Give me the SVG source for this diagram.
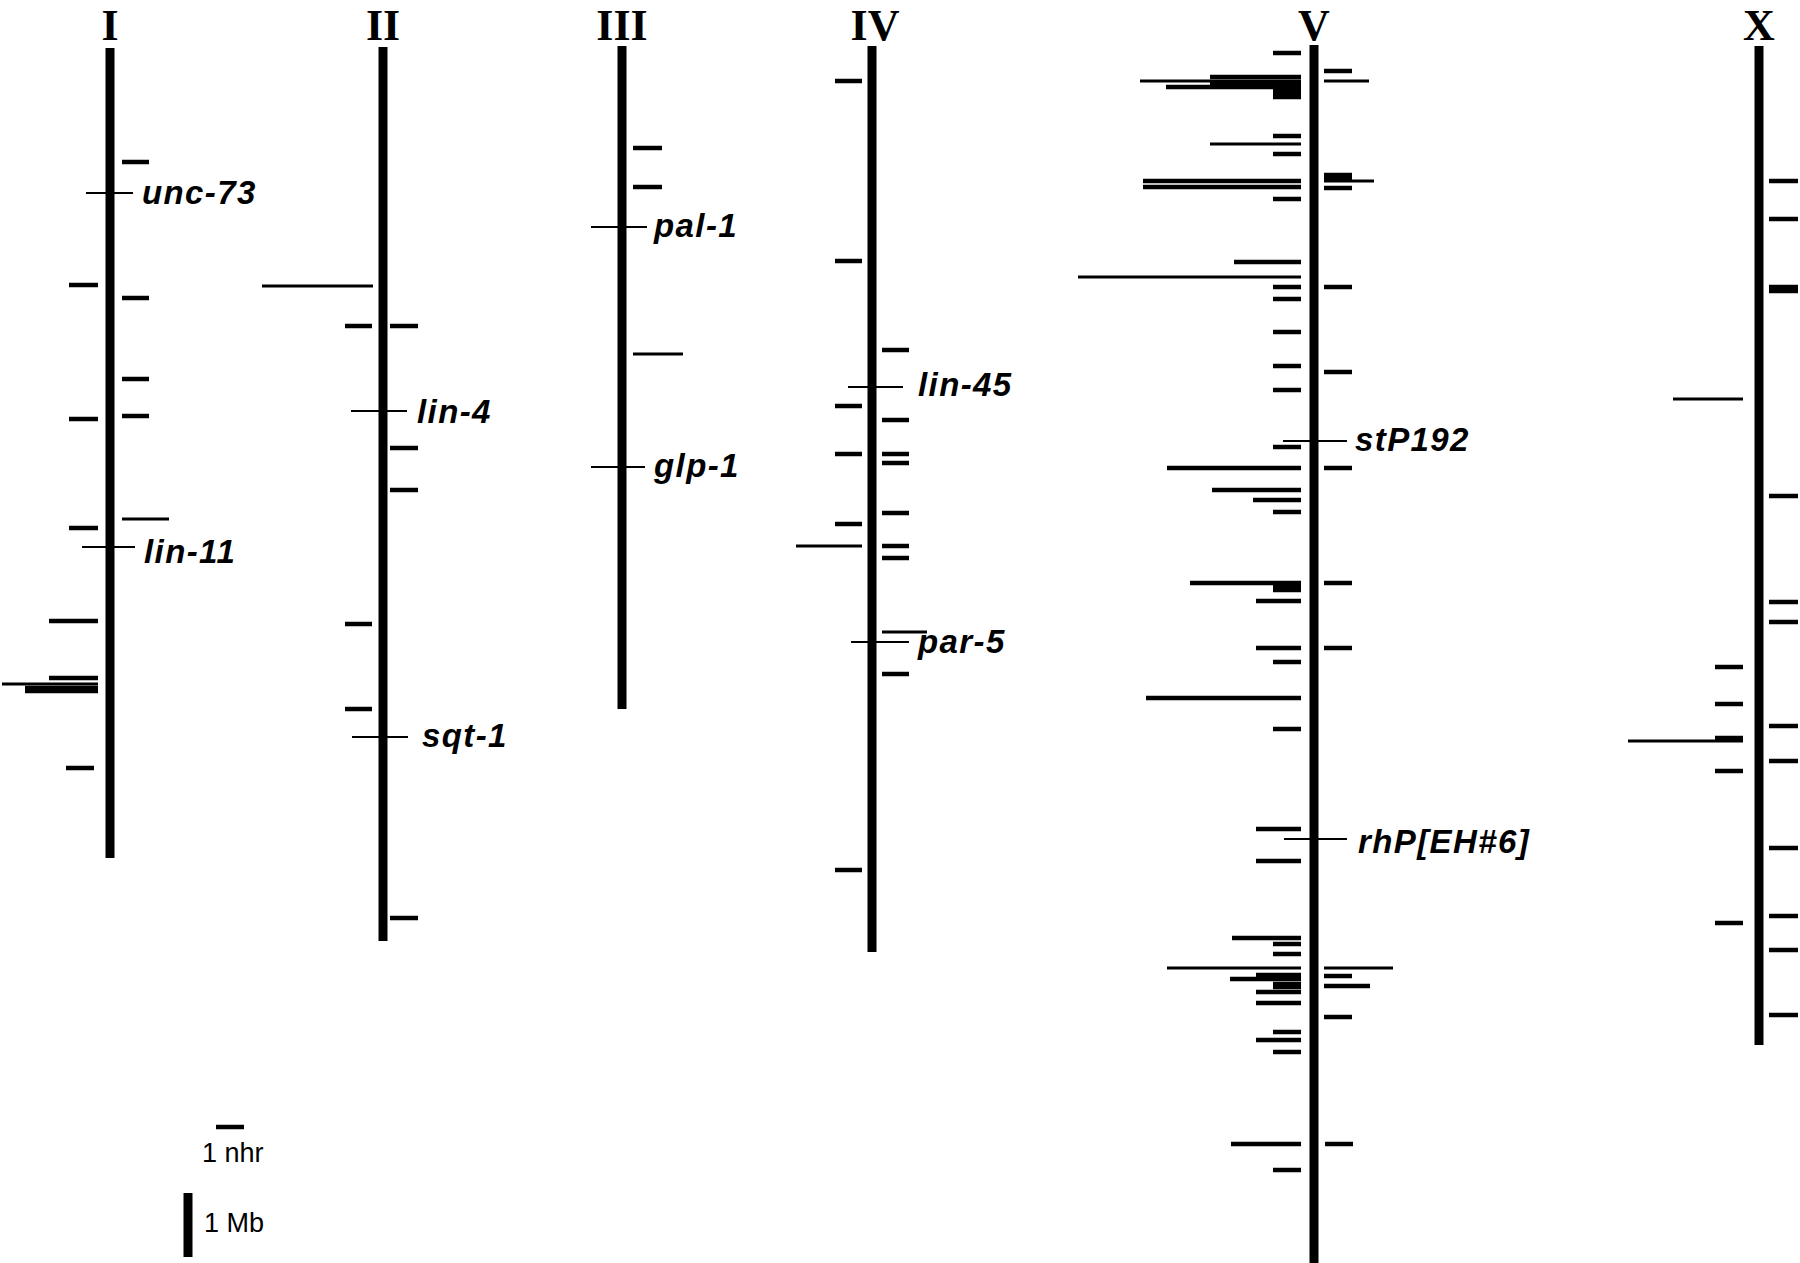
<svg xmlns="http://www.w3.org/2000/svg" width="1800" height="1263" viewBox="0 0 1800 1263">
<style>
line{stroke:#000;stroke-linecap:butt}
.c{stroke-width:9}
.t{stroke-width:4.5}
.w{stroke-width:3.2}
.m{stroke-width:2}
.h{font-family:"Liberation Serif","Times New Roman",serif;font-weight:bold;font-size:44px;text-anchor:middle;fill:#000}
.g{font-family:"Liberation Sans",Arial,sans-serif;font-weight:bold;font-style:italic;font-size:33px;letter-spacing:1.4px;fill:#000}
.s{font-family:"Liberation Sans",Arial,sans-serif;font-size:27px;fill:#000}
</style>
<rect width="1800" height="1263" fill="#fff"/>

<g id="chrI">
<text class="h" x="110" y="40">I</text>
<line class="c" x1="110" y1="48" x2="110" y2="858"/>
<line class="t" x1="122" y1="162" x2="149" y2="162"/>
<line class="m" x1="86" y1="193" x2="133" y2="193"/>
<text class="g" x="142" y="204">unc-73</text>
<line class="t" x1="69" y1="285" x2="98" y2="285"/>
<line class="t" x1="122" y1="298" x2="149" y2="298"/>
<line class="t" x1="122" y1="379" x2="149" y2="379"/>
<line class="t" x1="122" y1="416" x2="149" y2="416"/>
<line class="t" x1="69" y1="419" x2="98" y2="419"/>
<line class="w" x1="122" y1="519" x2="169" y2="519"/>
<line class="t" x1="69" y1="528" x2="98" y2="528"/>
<line class="m" x1="82" y1="547" x2="135" y2="547"/>
<text class="g" x="144" y="563">lin-11</text>
<line class="t" x1="49" y1="621" x2="98" y2="621"/>
<line class="t" x1="49" y1="678" x2="98" y2="678"/>
<line class="w" x1="2" y1="684" x2="98" y2="684"/>
<line class="t" x1="25" y1="688" x2="98" y2="688"/>
<line class="t" x1="25" y1="691" x2="98" y2="691"/>
<line class="t" x1="66" y1="768" x2="94" y2="768"/>
</g>

<g id="chrII">
<text class="h" x="383" y="40">II</text>
<line class="c" x1="383" y1="47" x2="383" y2="941"/>
<line class="w" x1="262" y1="286" x2="373" y2="286"/>
<line class="t" x1="345" y1="326" x2="372" y2="326"/>
<line class="t" x1="390" y1="326" x2="418" y2="326"/>
<line class="m" x1="351" y1="411" x2="407" y2="411"/>
<text class="g" x="417" y="423">lin-4</text>
<line class="t" x1="390" y1="448" x2="418" y2="448"/>
<line class="t" x1="390" y1="490" x2="418" y2="490"/>
<line class="t" x1="345" y1="624" x2="372" y2="624"/>
<line class="t" x1="345" y1="709" x2="372" y2="709"/>
<line class="m" x1="352" y1="737" x2="408" y2="737"/>
<text class="g" x="422" y="747">sqt-1</text>
<line class="t" x1="390" y1="918" x2="418" y2="918"/>
</g>

<g id="chrIII">
<text class="h" x="622" y="40">III</text>
<line class="c" x1="622" y1="46" x2="622" y2="709"/>
<line class="t" x1="633" y1="148" x2="662" y2="148"/>
<line class="t" x1="633" y1="187" x2="662" y2="187"/>
<line class="m" x1="591" y1="227" x2="647" y2="227"/>
<text class="g" x="654" y="237">pal-1</text>
<line class="w" x1="633" y1="354" x2="683" y2="354"/>
<line class="m" x1="591" y1="467" x2="645" y2="467"/>
<text class="g" x="654" y="477">glp-1</text>
</g>

<g id="chrIV">
<text class="h" x="875" y="40">IV</text>
<line class="c" x1="872" y1="46" x2="872" y2="952"/>
<line class="t" x1="835" y1="81" x2="862" y2="81"/>
<line class="t" x1="835" y1="261" x2="862" y2="261"/>
<line class="t" x1="882" y1="350" x2="909" y2="350"/>
<line class="m" x1="848" y1="387" x2="903" y2="387"/>
<text class="g" x="918" y="396">lin-45</text>
<line class="t" x1="835" y1="406" x2="862" y2="406"/>
<line class="t" x1="882" y1="420" x2="909" y2="420"/>
<line class="t" x1="835" y1="454" x2="862" y2="454"/>
<line class="t" x1="882" y1="454" x2="909" y2="454"/>
<line class="t" x1="882" y1="463" x2="909" y2="463"/>
<line class="t" x1="882" y1="513" x2="909" y2="513"/>
<line class="t" x1="835" y1="524" x2="862" y2="524"/>
<line class="w" x1="796" y1="546" x2="862" y2="546"/>
<line class="t" x1="882" y1="546" x2="909" y2="546"/>
<line class="t" x1="882" y1="558" x2="909" y2="558"/>
<line class="w" x1="882" y1="632" x2="927" y2="632"/>
<line class="m" x1="851" y1="642" x2="909" y2="642"/>
<text class="g" x="918" y="653">par-5</text>
<line class="t" x1="882" y1="674" x2="909" y2="674"/>
<line class="t" x1="835" y1="870" x2="862" y2="870"/>
</g>

<g id="chrV">
<text class="h" x="1314" y="40">V</text>
<line class="c" x1="1314" y1="45" x2="1314" y2="1263"/>
<line class="t" x1="1273" y1="53" x2="1301" y2="53"/>
<line class="t" x1="1324" y1="71" x2="1352" y2="71"/>
<line class="t" x1="1210" y1="77" x2="1301" y2="77"/>
<line class="w" x1="1140" y1="81" x2="1301" y2="81"/>
<line class="t" x1="1210" y1="83" x2="1301" y2="83"/>
<line class="w" x1="1324" y1="81" x2="1369" y2="81"/>
<line class="t" x1="1166" y1="87" x2="1301" y2="87"/>
<line class="t" x1="1273" y1="91" x2="1301" y2="91"/>
<line class="t" x1="1273" y1="94" x2="1301" y2="94"/>
<line class="t" x1="1273" y1="97" x2="1301" y2="97"/>
<line class="t" x1="1273" y1="136" x2="1301" y2="136"/>
<line class="w" x1="1210" y1="144" x2="1301" y2="144"/>
<line class="t" x1="1273" y1="154" x2="1301" y2="154"/>
<line class="t" x1="1324" y1="175" x2="1352" y2="175"/>
<line class="t" x1="1324" y1="178" x2="1352" y2="178"/>
<line class="w" x1="1324" y1="181" x2="1374" y2="181"/>
<line class="t" x1="1324" y1="188" x2="1352" y2="188"/>
<line class="t" x1="1143" y1="181" x2="1301" y2="181"/>
<line class="t" x1="1143" y1="187" x2="1301" y2="187"/>
<line class="t" x1="1273" y1="199" x2="1301" y2="199"/>
<line class="t" x1="1234" y1="262" x2="1301" y2="262"/>
<line class="w" x1="1078" y1="277" x2="1301" y2="277"/>
<line class="t" x1="1273" y1="287" x2="1301" y2="287"/>
<line class="t" x1="1324" y1="287" x2="1352" y2="287"/>
<line class="t" x1="1273" y1="299" x2="1301" y2="299"/>
<line class="t" x1="1273" y1="332" x2="1301" y2="332"/>
<line class="t" x1="1273" y1="366" x2="1301" y2="366"/>
<line class="t" x1="1324" y1="372" x2="1352" y2="372"/>
<line class="t" x1="1273" y1="390" x2="1301" y2="390"/>
<line class="m" x1="1283" y1="441" x2="1347" y2="441"/>
<text class="g" x="1355" y="451">stP192</text>
<line class="t" x1="1273" y1="447" x2="1301" y2="447"/>
<line class="t" x1="1167" y1="468" x2="1301" y2="468"/>
<line class="t" x1="1324" y1="468" x2="1352" y2="468"/>
<line class="t" x1="1212" y1="490" x2="1301" y2="490"/>
<line class="t" x1="1253" y1="500" x2="1301" y2="500"/>
<line class="t" x1="1273" y1="512" x2="1301" y2="512"/>
<line class="t" x1="1190" y1="583" x2="1301" y2="583"/>
<line class="t" x1="1273" y1="587" x2="1301" y2="587"/>
<line class="t" x1="1273" y1="590" x2="1301" y2="590"/>
<line class="t" x1="1324" y1="583" x2="1352" y2="583"/>
<line class="t" x1="1256" y1="601" x2="1301" y2="601"/>
<line class="t" x1="1256" y1="648" x2="1301" y2="648"/>
<line class="t" x1="1324" y1="648" x2="1352" y2="648"/>
<line class="t" x1="1273" y1="662" x2="1301" y2="662"/>
<line class="t" x1="1146" y1="698" x2="1301" y2="698"/>
<line class="t" x1="1273" y1="729" x2="1301" y2="729"/>
<line class="t" x1="1256" y1="829" x2="1301" y2="829"/>
<line class="m" x1="1284" y1="839" x2="1347" y2="839"/>
<text class="g" x="1358" y="853">rhP[EH#6]</text>
<line class="t" x1="1256" y1="861" x2="1301" y2="861"/>
<line class="t" x1="1232" y1="938" x2="1301" y2="938"/>
<line class="t" x1="1273" y1="944" x2="1301" y2="944"/>
<line class="t" x1="1273" y1="954" x2="1301" y2="954"/>
<line class="w" x1="1167" y1="968" x2="1301" y2="968"/>
<line class="w" x1="1324" y1="968" x2="1393" y2="968"/>
<line class="t" x1="1256" y1="975" x2="1301" y2="975"/>
<line class="t" x1="1230" y1="979" x2="1301" y2="979"/>
<line class="t" x1="1324" y1="976" x2="1352" y2="976"/>
<line class="t" x1="1273" y1="984" x2="1301" y2="984"/>
<line class="t" x1="1273" y1="987" x2="1301" y2="987"/>
<line class="t" x1="1324" y1="986" x2="1370" y2="986"/>
<line class="t" x1="1256" y1="992" x2="1301" y2="992"/>
<line class="t" x1="1256" y1="1003" x2="1301" y2="1003"/>
<line class="t" x1="1324" y1="1017" x2="1352" y2="1017"/>
<line class="t" x1="1273" y1="1032" x2="1301" y2="1032"/>
<line class="t" x1="1256" y1="1040" x2="1301" y2="1040"/>
<line class="t" x1="1273" y1="1052" x2="1301" y2="1052"/>
<line class="t" x1="1231" y1="1144" x2="1301" y2="1144"/>
<line class="t" x1="1325" y1="1144" x2="1353" y2="1144"/>
<line class="t" x1="1273" y1="1170" x2="1301" y2="1170"/>
</g>

<g id="chrX">
<text class="h" x="1759" y="40">X</text>
<line class="c" x1="1759" y1="46" x2="1759" y2="1045"/>
<line class="t" x1="1769" y1="181" x2="1798" y2="181"/>
<line class="t" x1="1769" y1="219" x2="1798" y2="219"/>
<line class="t" x1="1769" y1="287" x2="1798" y2="287"/>
<line class="t" x1="1769" y1="291" x2="1798" y2="291"/>
<line class="w" x1="1673" y1="399" x2="1743" y2="399"/>
<line class="t" x1="1769" y1="496" x2="1798" y2="496"/>
<line class="t" x1="1769" y1="602" x2="1798" y2="602"/>
<line class="t" x1="1769" y1="622" x2="1798" y2="622"/>
<line class="t" x1="1715" y1="667" x2="1743" y2="667"/>
<line class="t" x1="1715" y1="704" x2="1743" y2="704"/>
<line class="t" x1="1769" y1="726" x2="1798" y2="726"/>
<line class="t" x1="1715" y1="738" x2="1743" y2="738"/>
<line class="w" x1="1628" y1="741" x2="1743" y2="741"/>
<line class="t" x1="1769" y1="761" x2="1798" y2="761"/>
<line class="t" x1="1715" y1="771" x2="1743" y2="771"/>
<line class="t" x1="1769" y1="848" x2="1798" y2="848"/>
<line class="t" x1="1769" y1="916" x2="1798" y2="916"/>
<line class="t" x1="1715" y1="923" x2="1743" y2="923"/>
<line class="t" x1="1769" y1="950" x2="1798" y2="950"/>
<line class="t" x1="1769" y1="1015" x2="1798" y2="1015"/>
</g>

<g id="legend">
<line class="t" x1="216" y1="1127" x2="244" y2="1127"/>
<text class="s" x="202" y="1162">1 nhr</text>
<line class="c" x1="188" y1="1193" x2="188" y2="1257"/>
<text class="s" x="204" y="1232">1 Mb</text>
</g>
</svg>
